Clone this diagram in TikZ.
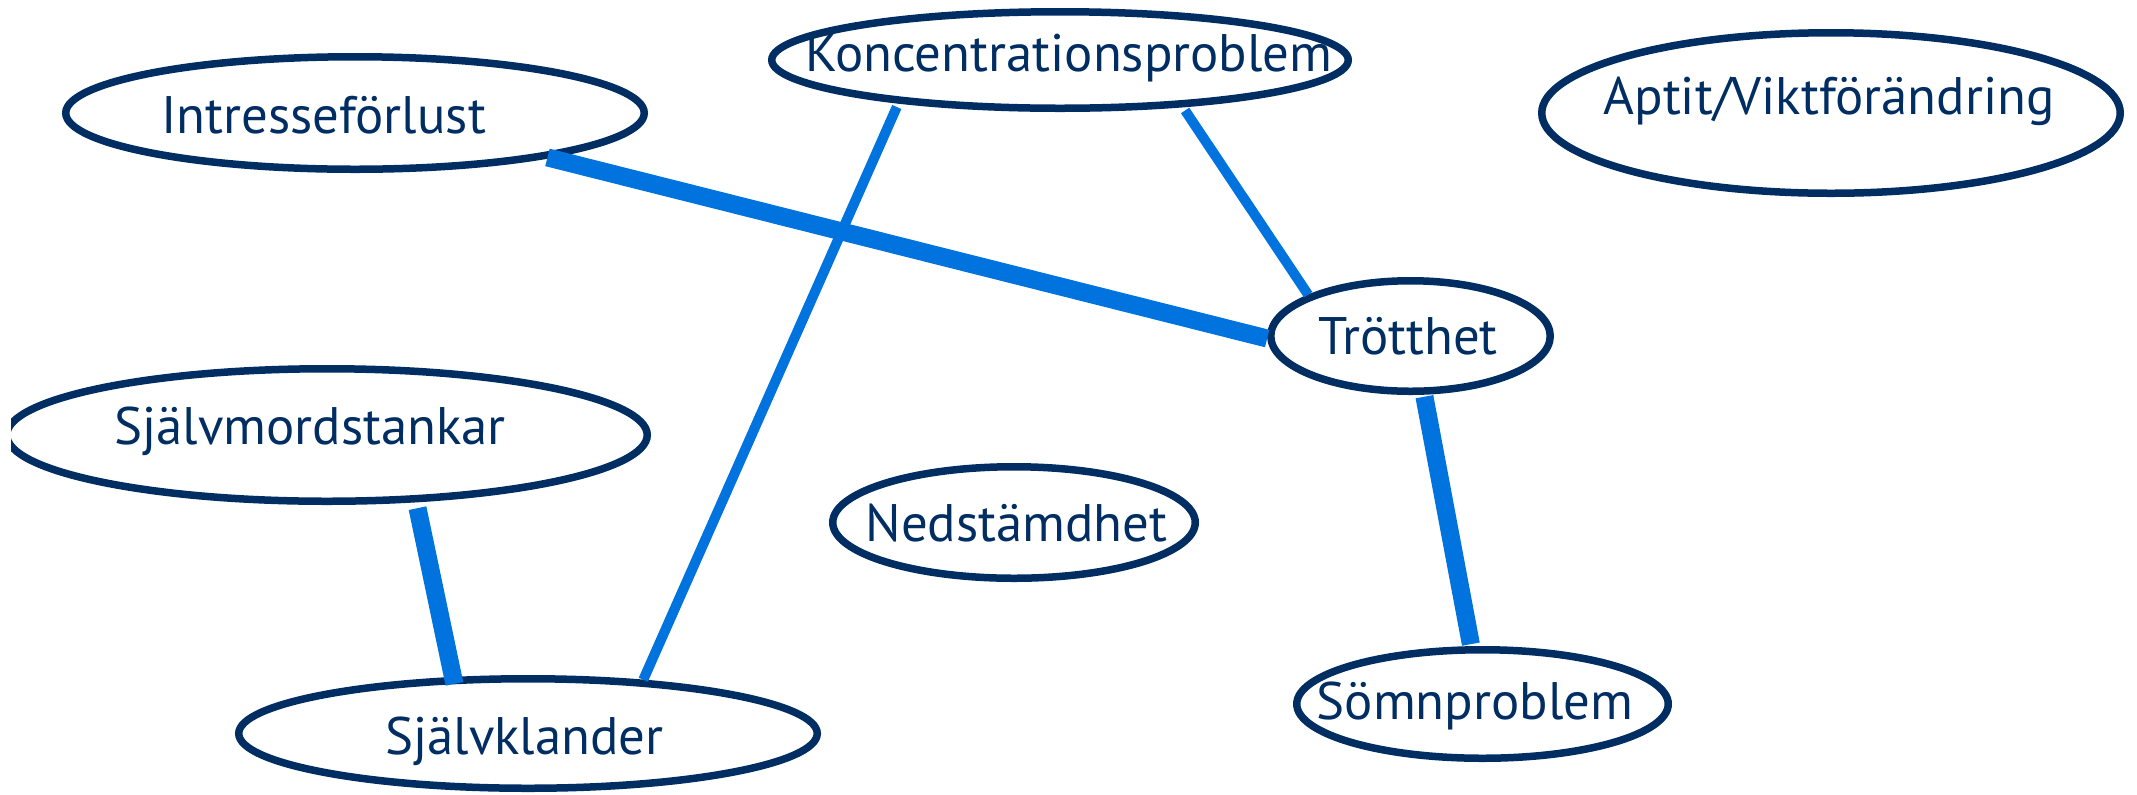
\documentclass[tikz,border=0pt]{standalone}
\usepackage{fontspec}
\setmainfont{PT Sans}
\usetikzlibrary{shapes.geometric}
\definecolor{navy}{RGB}{0,45,98}
\definecolor{linkblue}{RGB}{0,115,222}
\newcommand\nlab[3]{\hbox to 0pt{\hss\raisebox{\dimexpr#2-0.35em\relax}[0pt][0pt]{\kern#1\relax#3\kern-#1\relax}\hss}}
\begin{document}
\begin{tikzpicture}[x=0.5pt,y=-0.5pt,
  sym/.style={ellipse, draw=navy, line width=3.75pt, inner sep=0pt, text=navy,
    font=\fontsize{26.4}{30}\selectfont},
  weak/.style={draw=linkblue, line width=5pt},
  strong/.style={draw=linkblue, line width=9pt}]
\useasboundingbox (0,0) rectangle (2137,794);

\node[sym, minimum width=289.25pt, minimum height=56.25pt] (intr) at (355,113) {\nlab{-15.75pt}{-1.25pt}{Intresseförlust}};
\node[sym, minimum width=288.25pt, minimum height=48.25pt] (konc) at (1060,60) {\nlab{4.5pt}{3.25pt}{Koncentrationsproblem}};
\node[sym, minimum width=289.25pt, minimum height=80.25pt] (aptit) at (1831,113) {\nlab{-1pt}{8.5pt}{Aptit/Viktförändring}};
\node[sym, minimum width=139.75pt, minimum height=55.25pt] (trott) at (1410.5,336) {\nlab{-1.25pt}{0pt}{Trötthet}};
\begin{scope}
  \clip (11,0) rectangle (2137,794);
  \node[sym, minimum width=320.25pt, minimum height=66.25pt] (sjalvm) at (327,435) {\nlab{-8.5pt}{4.25pt}{Självmordstankar}};
\end{scope}
\node[sym, minimum width=181.25pt, minimum height=55.75pt] (ned) at (1014,522.5) {\nlab{1.25pt}{-0.5pt}{Nedstämdhet}};
\node[sym, minimum width=289.25pt, minimum height=54.75pt] (sjalvk) at (528,733.5) {\nlab{-1.75pt}{-1.5pt}{Självklander}};
\node[sym, minimum width=185.75pt, minimum height=54.25pt] (somn) at (1482.5,704) {\nlab{-3.75pt}{1.5pt}{Sömnproblem}};

\draw[strong, shorten <=-1pt] (intr.347.1) -- (trott.181.6);
\draw[weak, shorten <=2pt] (konc.195.8) -- (sjalvk.25.5);
\draw[weak, shorten <=2pt] (konc.339.5) -- (trott.158.35);
\draw[strong, shorten <=3pt, shorten >=-3.5pt] (sjalvm.323.1) -- (sjalvk.143.2);
\draw[strong, shorten <=1pt, shorten >=1pt] (trott.283.6) -- (somn.101.8);
\end{tikzpicture}
\end{document}
